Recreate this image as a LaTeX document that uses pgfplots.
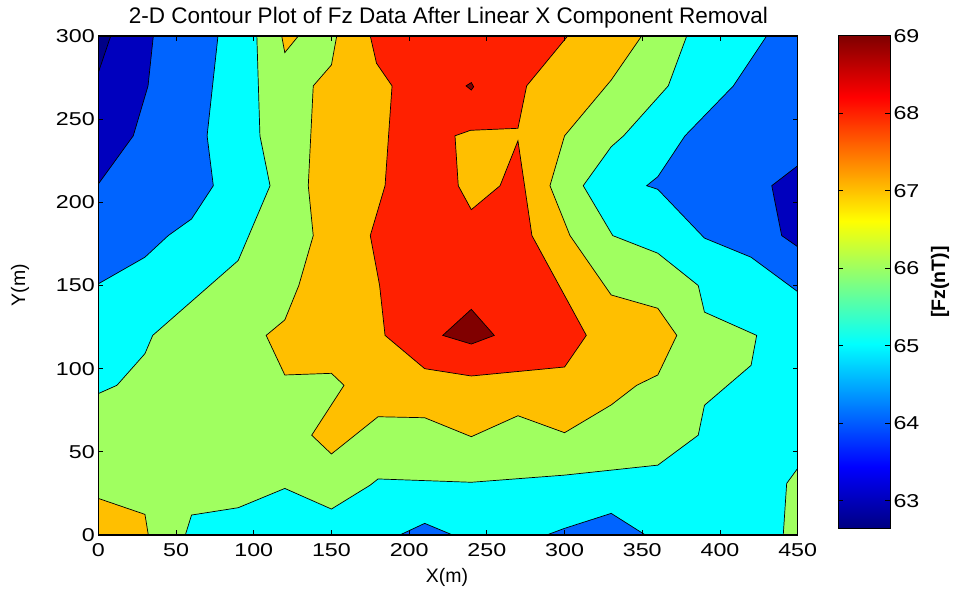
\documentclass[border=0pt]{standalone}
\usepackage{fontspec}
\setmainfont{Liberation Sans}
\usepackage{graphicx}
\usepackage{pgfplots}
\pgfplotsset{compat=1.18}
\definecolor{cnavy}{RGB}{0,0,135}
\definecolor{cdblue}{RGB}{0,0,190}
\definecolor{cmblue}{RGB}{0,100,255}
\definecolor{ccyan}{RGB}{0,255,255}
\definecolor{cgreen}{RGB}{160,255,96}
\definecolor{corange}{RGB}{255,191,0}
\definecolor{cred}{RGB}{255,32,0}
\definecolor{cdred}{RGB}{128,0,0}
\pgfplotsset{contour/.style={draw=black, line width=0.7pt}}
\begin{document}
\begin{tikzpicture}
\useasboundingbox (-98.3pt,-56pt) rectangle (858.7pt,535pt);
\begin{axis}[
  at={(0pt,0pt)}, anchor=south west,
  scale only axis, width=699.4pt, height=499pt,
  xmin=0, xmax=450, ymin=0, ymax=300,
  xtick={0,50,...,450}, ytick={0,50,...,300},
  tick align=inside, major tick length=5pt,
  tick style={black, line width=0.8pt},
  axis line style={line width=1.2pt},
  axis on top,
  /pgf/number format/assume math mode=true,
  ticklabel style={font=\fontsize{18.6}{20}\selectfont},
  xticklabel style={yshift=-5pt},
  xticklabel={\scalebox{1.25}[1]{\pgfmathprintnumber{\tick}}},
  yticklabel={\scalebox{1.25}[1]{\pgfmathprintnumber{\tick}}},
]
% background band 65-66
\addplot[fill=ccyan, draw=none] coordinates {(0,0) (450,0) (450,300) (0,300)} -- cycle;
% below 65
\addplot[contour, fill=cmblue] coordinates {(0,300) (77,300) (70,240) (74,210) (60,190) (45,180) (30,167) (0,151)} -- cycle;
\addplot[contour, fill=cmblue] coordinates {(450,300) (430,300) (408.6,270) (377.5,240) (360,215.4) (352.8,210) (360,207.8) (390,178.5) (420,167) (450,146.3)} -- cycle;
\addplot[contour, fill=cmblue] coordinates {(194,0) (210,7) (228,0)} -- cycle;
\addplot[contour, fill=cmblue] coordinates {(288.5,0) (300,4) (330,13) (352,0)} -- cycle;
% below 64
\addplot[contour, fill=cdblue] coordinates {(0,300) (35.4,300) (32,270) (22.5,240) (0,211)} -- cycle;
\addplot[contour, fill=cdblue] coordinates {(450,222) (433.3,210) (439.7,180) (450,173.3)} -- cycle;
% below 63
\addplot[contour, fill=cnavy] coordinates {(0,300) (8,300) (0,278)} -- cycle;
% above 66
\addplot[contour, fill=cgreen] coordinates {(102,300) (104,240) (110.5,210) (90,165) (35,120) (30,109) (12,90) (0,85) (0,0) (56,0) (60,12) (90,16.4) (120,28) (150,15.6) (175,30) (180,33.7) (240,31.7) (300,36) (360,42) (386,60) (390,78) (420,102) (423.6,120) (390,134) (386,150) (360,169.4) (331,180) (312,210) (330,233.4) (338,240) (366.7,270) (378.6,300)} -- cycle;
\addplot[contour, fill=cgreen] coordinates {(440.7,0) (442.9,31) (450,40.1) (450,0)} -- cycle;
% above 67
\addplot[contour, fill=corange] coordinates {(153.4,300) (150,282.6) (138.3,270) (135.1,210) (138.3,180) (129,150) (120,129.3) (108,120) (120,96.2) (150,97.2) (158.1,90) (137.3,60) (150,48.7) (180,71.1) (210,70.5) (240,59.1) (270,71.7) (300,61.5) (330,78.2) (346.4,90) (360,96.2) (372.2,120) (360,136.3) (330,144.3) (303.5,180) (290.6,210) (300,240) (330,273.5) (349.6,300)} -- cycle;
\addplot[contour, fill=corange] coordinates {(118,300) (120,290) (128.7,300)} -- cycle;
\addplot[contour, fill=corange] coordinates {(0,22) (30,12.4) (32.2,0) (0,0)} -- cycle;
% above 68
\addplot[contour, fill=cred] coordinates {(175,300) (179,283.6) (189,270) (184.5,210) (175,180) (181,150) (184.5,120) (210,100) (240,95.6) (300,101) (314,120) (300,144) (279,180) (270,237) (258.5,210) (240,195.6) (231.6,210) (229.5,240) (239.5,243.3) (270,244.5) (275.6,270) (302,300)} -- cycle;
% above 69
\addplot[contour, fill=cdred] coordinates {(221.6,120) (240,135.7) (254.8,120) (240,114.8)} -- cycle;
\addplot[contour, fill=cdred] coordinates {(236.6,270) (240,272) (241.5,269.5) (240,267.5)} -- cycle;
\end{axis}
% colour bar
\begin{axis}[
  at={(740pt,6pt)}, anchor=south west,
  scale only axis, width=51.7pt, height=493.3pt,
  xmin=0, xmax=1, ymin=62.636, ymax=69,
  xtick=\empty, ytick={63,...,69},
  tick align=inside, major tick length=5pt,
  tick style={black, line width=0.8pt},
  axis line style={line width=1pt},
  ytick pos=both, yticklabel pos=right,
  axis on top,
  colormap/jet, point meta min=62.636, point meta max=69,
  /pgf/number format/assume math mode=true,
  yticklabel style={font=\fontsize{18.6}{20}\selectfont},
  yticklabel={\scalebox{1.25}[1]{\pgfmathprintnumber{\tick}}},
]
\addplot[surf, shader=interp, point meta=y, mesh/cols=2] coordinates {
(0,62.636) (1,62.636)

(0,63.4315) (1,63.4315)

(0,65.0225) (1,65.0225)

(0,66.6135) (1,66.6135)

(0,68.2045) (1,68.2045)

(0,69) (1,69)
};
\end{axis}
\node[font=\fontsize{22.5}{24}\selectfont, anchor=base] at (350.2pt,511pt) {2-D Contour Plot of Fz Data After Linear X Component Removal};
\node[font=\fontsize{19.5}{21}\selectfont] at (348.7pt,-42pt) {X(m)};
\node[font=\fontsize{19.5}{21}\selectfont, rotate=90] at (-78.3pt,250pt) {Y(m)};
\node[font=\fontsize{19.5}{21}\selectfont\bfseries, rotate=90] at (841.7pt,253pt) {[Fz(nT)]};
\end{tikzpicture}
\end{document}
